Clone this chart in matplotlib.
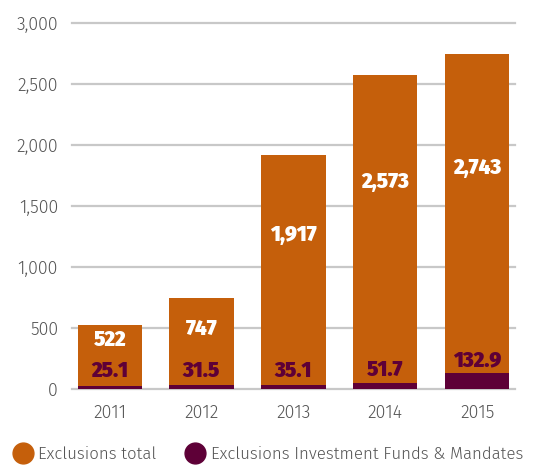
import matplotlib
matplotlib.use("Agg")
import matplotlib.pyplot as plt
from matplotlib.lines import Line2D

years = ["2011", "2012", "2013", "2014", "2015"]
total = [522, 747, 1917, 2573, 2743]
funds = [25.1, 31.5, 35.1, 51.7, 132.9]
total_labels = ["522", "747", "1,917", "2,573", "2,743"]
funds_labels = ["25.1", "31.5", "35.1", "51.7", "132.9"]

ORANGE = "#C55F0B"
PURPLE = "#5E0037"
GREY = "#555555"
plt.rcParams["font.family"] = ["Fira Sans", "DejaVu Sans"]
plt.rcParams["font.weight"] = 300

fig = plt.figure(figsize=(5.39, 4.66), dpi=100)
ax = fig.add_axes([0.1336, 0.165, 0.955 - 0.1336, 0.9506 - 0.165])

x = range(len(years))
ax.bar(x, total, width=0.7, color=ORANGE, zorder=2)
ax.bar(x, funds, width=0.7, color=PURPLE, zorder=3)

bold = dict(family=["Fira Sans Condensed", "Roboto Condensed", "DejaVu Sans"],
            fontweight=900, fontsize=16, ha="center", va="center", zorder=4)
for i, (t, f) in enumerate(zip(total, funds)):
    ax.text(i, max(0.66 * t, 400), total_labels[i], color="white", **bold)
    ax.text(i, max(150, f + 105), funds_labels[i], color=PURPLE, **bold)

ax.set_xlim(-0.41, 4.41)
ax.set_ylim(0, 3000)
ax.set_yticks(range(0, 3001, 500))
ax.set_yticklabels([f"{v:,}" for v in range(0, 3001, 500)])
ax.set_xticks(list(x))
ax.set_xticklabels(years)
ax.tick_params(length=0, labelsize=12.8, labelcolor=GREY)
ax.tick_params(axis="y", pad=10)
ax.tick_params(axis="x", pad=11)
ax.grid(axis="y", color="#c8c8c8", lw=1.6, zorder=0)
ax.set_axisbelow(True)
for s in ax.spines.values():
    s.set_visible(False)
for gl in ax.get_ygridlines():
    gl.set_clip_on(False)

handles = [
    Line2D([], [], ls="", marker="o", ms=15, color=ORANGE, label="Exclusions total"),
    Line2D([], [], ls="", marker="o", ms=15, color=PURPLE,
           label="Exclusions Investment Funds & Mandates"),
]
fig.legend(handles=handles, loc="lower left", bbox_to_anchor=(-0.005, -0.025), ncol=2,
           frameon=False, fontsize=12.1, labelcolor=GREY, handletextpad=0.35,
           columnspacing=1.7, handlelength=1.2)

fig.savefig("out.png", dpi=100)
